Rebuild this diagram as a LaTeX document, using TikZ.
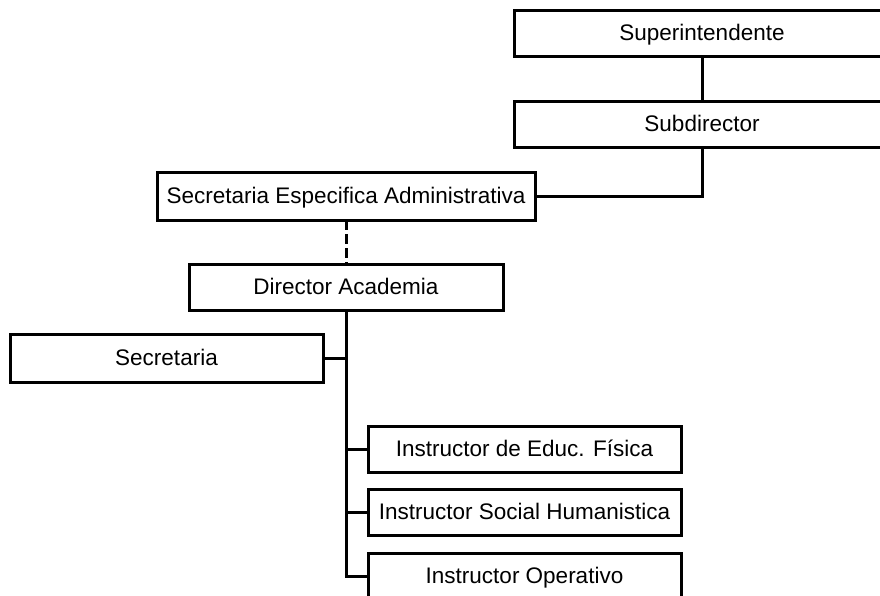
\documentclass[tikz,border=0pt]{standalone}
\usepackage{fontspec}
\setmainfont{Liberation Sans}
\begin{document}
\begin{tikzpicture}[x=1pt, y=-1pt,
  orgbox/.style={draw=black, fill=white, line width=3pt, rectangle,
    inner sep=0pt, outer sep=0pt, minimum height=46pt,
    text height=16pt, text depth=2pt,
    font=\fontsize{22.5}{26}\selectfont},
  link/.style={draw=black, line width=3pt},
  dotlink/.style={link, dash pattern=on 10pt off 4pt}]
  \path[use as bounding box] (0,0) rectangle (880,596);
  \begin{scope}
    \clip (0,0) rectangle (880,596);
    % boxes of the chart
    \node[orgbox, minimum width=376pt] (sup) at (702,34) {Superintendente};
    \node[orgbox, minimum width=376pt] (sub) at (702,125) {Subdirector};
    \node[orgbox, minimum width=378pt, minimum height=47pt] (sea) at (346,196.5) {Secretaria Especifica Administrativa};
    \node[orgbox, minimum width=314pt] (da) at (346,287) {Director Academia};
    \node[orgbox, minimum width=313pt, minimum height=48pt] (sec) at (166.5,358) {Secretaria};
    \node[orgbox, minimum width=313pt] (ie) at (524.5,449) {Instructor de Educ. Física};
    \node[orgbox, minimum width=313pt] (ish) at (524.5,512) {Instructor Social Humanistica};
    \node[orgbox, minimum width=313pt] (op) at (524.5,576) {Instructor Operativo};
    % connectors
    \draw[link] (sup.south) -- (sub.north);
    \draw[link] (sub.south) |- (sea.east);
    \draw[dotlink] (sea.south) -- (da.north);
    \draw[link] (da.south) -- (da.south |- op.west) -- (op.west);
    \draw[link] (sec.east) -- (sec.east -| da.south);
    \draw[link] (da.south |- ie.west) -- (ie.west);
    \draw[link] (da.south |- ish.west) -- (ish.west);
  \end{scope}
\end{tikzpicture}
\end{document}
